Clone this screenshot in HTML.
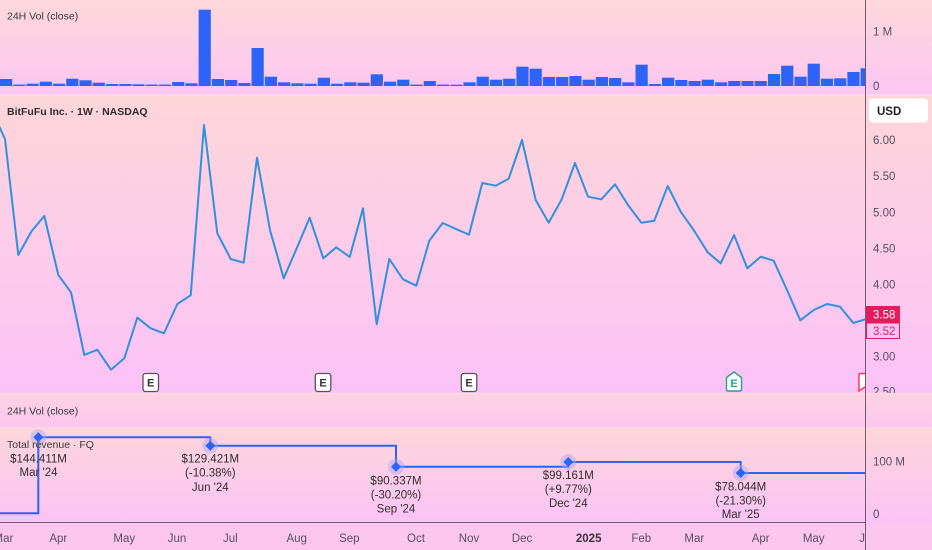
<!DOCTYPE html>
<html><head><meta charset="utf-8"><style>
html,body{margin:0;padding:0;background:#fcc6f0;}
svg{display:block;}
</style></head><body>
<svg width="932" height="550" viewBox="0 0 932 550" xmlns="http://www.w3.org/2000/svg" font-family="'Liberation Sans', Arial, sans-serif">
<defs>
<linearGradient id="g1" x1="0" y1="0" x2="0" y2="1"><stop offset="0" stop-color="#fdd8da"/><stop offset="1" stop-color="#fcc6f2"/></linearGradient>
<linearGradient id="g2" x1="0" y1="0" x2="0" y2="1"><stop offset="0" stop-color="#fdd6d9"/><stop offset="1" stop-color="#fcc2f8"/></linearGradient>
<linearGradient id="g3" x1="0" y1="0" x2="0" y2="1"><stop offset="0" stop-color="#fdd4de"/><stop offset="1" stop-color="#fcc5f2"/></linearGradient>
<linearGradient id="g4" x1="0" y1="0" x2="0" y2="1"><stop offset="0" stop-color="#fdd6d9"/><stop offset="1" stop-color="#fcc3f7"/></linearGradient>
<clipPath id="cp"><rect x="0" y="0" width="865" height="550"/></clipPath>
</defs>

<!-- pane backgrounds -->
<rect x="0" y="0" width="932" height="95" fill="url(#g1)"/>
<rect x="0" y="95" width="932" height="298" fill="url(#g2)"/>
<rect x="0" y="393" width="932" height="35" fill="url(#g3)"/>
<rect x="0" y="428" width="932" height="95" fill="url(#g4)"/>
<rect x="0" y="523" width="932" height="27" fill="#fcc6f0"/>
<line x1="0" y1="95" x2="932" y2="95" stroke="#fde2e6" stroke-width="1"/>
<line x1="0" y1="393.5" x2="932" y2="393.5" stroke="#fde0e6" stroke-width="1"/>
<line x1="0" y1="428" x2="932" y2="428" stroke="#fde0e6" stroke-width="1"/>

<!-- volume bars -->
<g fill="#2d63f7" clip-path="url(#cp)">
<rect x="0" y="79" width="12.2" height="7"/>
<rect x="13.24" y="84.6" width="12.2" height="1.4"/>
<rect x="26.48" y="83.7" width="12.2" height="2.3"/>
<rect x="39.72" y="81.7" width="12.2" height="4.3"/>
<rect x="52.96" y="83.7" width="12.2" height="2.3"/>
<rect x="66.2" y="78.7" width="12.2" height="7.3"/>
<rect x="79.44" y="80.3" width="12.2" height="5.7"/>
<rect x="92.68" y="82.7" width="12.2" height="3.3"/>
<rect x="105.92" y="84" width="12.2" height="2"/>
<rect x="119.16" y="84" width="12.2" height="2"/>
<rect x="132.4" y="84.3" width="12.2" height="1.7"/>
<rect x="145.64" y="84.6" width="12.2" height="1.4"/>
<rect x="158.88" y="84.6" width="12.2" height="1.4"/>
<rect x="172.12" y="82" width="12.2" height="4"/>
<rect x="185.36" y="83.3" width="12.2" height="2.7"/>
<rect x="198.6" y="9.7" width="12.2" height="76.3"/>
<rect x="211.84" y="79" width="12.2" height="7"/>
<rect x="225.08" y="80" width="12.2" height="6"/>
<rect x="238.32" y="83" width="12.2" height="3"/>
<rect x="251.56" y="48" width="12.2" height="38"/>
<rect x="264.8" y="76.7" width="12.2" height="9.3"/>
<rect x="278.04" y="82.3" width="12.2" height="3.7"/>
<rect x="291.28" y="83.3" width="12.2" height="2.7"/>
<rect x="304.52" y="83.7" width="12.2" height="2.3"/>
<rect x="317.76" y="77.7" width="12.2" height="8.3"/>
<rect x="331" y="83.7" width="12.2" height="2.3"/>
<rect x="344.24" y="82.3" width="12.2" height="3.7"/>
<rect x="357.48" y="82.7" width="12.2" height="3.3"/>
<rect x="370.72" y="74.3" width="12.2" height="11.7"/>
<rect x="383.96" y="81.7" width="12.2" height="4.3"/>
<rect x="397.2" y="79.7" width="12.2" height="6.3"/>
<rect x="410.44" y="84.6" width="12.2" height="1.4"/>
<rect x="423.68" y="81" width="12.2" height="5"/>
<rect x="436.92" y="84.6" width="12.2" height="1.4"/>
<rect x="450.16" y="84.7" width="12.2" height="1.3"/>
<rect x="463.4" y="82.3" width="12.2" height="3.7"/>
<rect x="476.64" y="76.7" width="12.2" height="9.3"/>
<rect x="489.88" y="79.7" width="12.2" height="6.3"/>
<rect x="503.12" y="78.7" width="12.2" height="7.3"/>
<rect x="516.36" y="66.7" width="12.2" height="19.3"/>
<rect x="529.6" y="68.7" width="12.2" height="17.3"/>
<rect x="542.84" y="77" width="12.2" height="9"/>
<rect x="556.08" y="77" width="12.2" height="9"/>
<rect x="569.32" y="76" width="12.2" height="10"/>
<rect x="582.56" y="79.7" width="12.2" height="6.3"/>
<rect x="595.8" y="77" width="12.2" height="9"/>
<rect x="609.04" y="78" width="12.2" height="8"/>
<rect x="622.28" y="82.3" width="12.2" height="3.7"/>
<rect x="635.52" y="64.7" width="12.2" height="21.3"/>
<rect x="648.76" y="84" width="12.2" height="2"/>
<rect x="662" y="77.7" width="12.2" height="8.3"/>
<rect x="675.24" y="80" width="12.2" height="6"/>
<rect x="688.48" y="81" width="12.2" height="5"/>
<rect x="701.72" y="79.7" width="12.2" height="6.3"/>
<rect x="714.96" y="82.3" width="12.2" height="3.7"/>
<rect x="728.2" y="81" width="12.2" height="5"/>
<rect x="741.44" y="81" width="12.2" height="5"/>
<rect x="754.68" y="81" width="12.2" height="5"/>
<rect x="767.92" y="74" width="12.2" height="12"/>
<rect x="781.16" y="65.7" width="12.2" height="20.3"/>
<rect x="794.4" y="76.7" width="12.2" height="9.3"/>
<rect x="807.64" y="63.7" width="12.2" height="22.3"/>
<rect x="820.88" y="78.7" width="12.2" height="7.3"/>
<rect x="834.12" y="78.3" width="12.2" height="7.7"/>
<rect x="847.36" y="72" width="12.2" height="14"/>
<rect x="860.6" y="68.3" width="12.2" height="17.7"/>
</g>

<!-- legends -->
<text x="7" y="19.5" font-size="10.5" fill="#3a3a3a">24H Vol (close)</text>
<text x="7" y="115" font-size="10.5" font-weight="bold" fill="#2e2e2e">BitFuFu Inc. · 1W · NASDAQ</text>
<text x="7" y="414.5" font-size="10.5" fill="#3a3a3a">24H Vol (close)</text>

<!-- price line -->
<g clip-path="url(#cp)">
<polyline fill="none" stroke="#3190e0" stroke-width="2" stroke-linejoin="round" points="-8.2,110.7 5,139 18.3,255 31.7,231 44.3,216 58.3,275 71,292.3 84.3,355 97.3,349.7 111,369.7 124.3,358.3 137.3,317.7 150.7,328.3 164,333.3 177.3,304 190.7,295.3 204,125 217.3,233.3 230.7,259 243.7,262.7 257,157.7 270,230 283.7,278.3 296.7,248.3 309.7,217.7 323.3,258.3 336.3,247.3 349.7,257 363,208.3 376.7,324.3 389.3,259 403,279.3 416.3,285.7 429.3,240.7 442.7,223 456,229 469,234.7 482.3,183 495.7,185.7 508.7,178.7 522,140 535.7,200 548.7,222.7 561.7,199.3 575,163 588,196.7 601.3,199.3 615,184.3 628,205 641.3,222.7 654.3,220.7 667.7,186 680.7,211.7 694.3,231 707.7,252.3 720.7,263.3 734,235 747.3,268.3 760.7,256.7 773.7,260.7 787,290 800.3,320.3 813.7,310 827,304 840,306.7 853.3,323 866.5,319"/>

<!-- earnings markers -->
<rect x="143" y="373.5" width="15.5" height="18" rx="2.5" fill="#fff" stroke="#555" stroke-width="1.3"/>
<text x="150.7" y="386.6" font-size="11" font-weight="bold" fill="#333" text-anchor="middle">E</text>
<rect x="315.3" y="373.5" width="15.5" height="18" rx="2.5" fill="#fff" stroke="#555" stroke-width="1.3"/>
<text x="323" y="386.6" font-size="11" font-weight="bold" fill="#333" text-anchor="middle">E</text>
<rect x="461.3" y="373.5" width="15.5" height="18" rx="2.5" fill="#fff" stroke="#555" stroke-width="1.3"/>
<text x="469" y="386.6" font-size="11" font-weight="bold" fill="#333" text-anchor="middle">E</text>
<path d="M726.5,377.5 L734,372 L741.5,377.5 L741.5,389.5 Q741.5,391 740,391 L728,391 Q726.5,391 726.5,389.5 Z" fill="#fff" stroke="#22a38b" stroke-width="1.4"/>
<text x="734" y="387" font-size="11" font-weight="bold" fill="#22a38b" text-anchor="middle">E</text>
<path d="M859,375 Q859,373.5 860.5,373.5 L872,373.5 L872,391 L865,387 L859,391 Z" fill="#fff" stroke="#f23645" stroke-width="1.4"/>
</g>

<!-- revenue step line -->
<g>
<path d="M0,513.3 H38.3 V437.3 H210.3 V445.7 H396 V466.7 H568.3 V462 H740.7 V473 H865" fill="none" stroke="#2d63f7" stroke-width="2"/>
<g fill="#a9a8f0" fill-opacity="0.45">
<circle cx="38.3" cy="437.3" r="8"/>
<circle cx="210.3" cy="445.7" r="8"/>
<circle cx="396" cy="466.7" r="8"/>
<circle cx="568.3" cy="462" r="8"/>
<circle cx="740.7" cy="473" r="8"/>
</g>
<g fill="#2d63f7">
<polygon points="38.3,432.3 43.3,437.3 38.3,442.3 33.3,437.3"/>
<polygon points="210.3,440.7 215.3,445.7 210.3,450.7 205.3,445.7"/>
<polygon points="396,461.7 401,466.7 396,471.7 391,466.7"/>
<polygon points="568.3,457 573.3,462 568.3,467 563.3,462"/>
<polygon points="740.7,468 745.7,473 740.7,478 735.7,473"/>
</g>
</g>
<text x="7" y="448" font-size="10.5" fill="#3a3a3a">Total revenue · FQ</text>

<g font-size="11.5" fill="#2f2f2f" text-anchor="middle">
<text x="38.5" y="462.3">$144.411M</text>
<text x="38.5" y="476">Mar '24</text>
<text x="210.3" y="462.5">$129.421M</text>
<text x="210.3" y="476.7">(-10.38%)</text>
<text x="210.3" y="490.9">Jun '24</text>
<text x="396" y="484.5">$90.337M</text>
<text x="396" y="498.5">(-30.20%)</text>
<text x="396" y="512.5">Sep '24</text>
<text x="568.3" y="479">$99.161M</text>
<text x="568.3" y="493">(+9.77%)</text>
<text x="568.3" y="507">Dec '24</text>
<text x="740.7" y="490.5">$78.044M</text>
<text x="740.7" y="504.5">(-21.30%)</text>
<text x="740.7" y="518">Mar '25</text>
</g>

<!-- x axis -->
<line x1="0" y1="522.5" x2="865" y2="522.5" stroke="#6b5e70" stroke-width="1"/>
<g font-size="11.5" fill="#5a5060" text-anchor="middle" clip-path="url(#cp)">
<text x="3.4" y="542">Mar</text>
<text x="58.3" y="542">Apr</text>
<text x="124.3" y="542">May</text>
<text x="177" y="542">Jun</text>
<text x="230.3" y="542">Jul</text>
<text x="296.7" y="542">Aug</text>
<text x="349.3" y="542">Sep</text>
<text x="416" y="542">Oct</text>
<text x="469" y="542">Nov</text>
<text x="522" y="542">Dec</text>
<text x="588.7" y="542" font-weight="bold" fill="#3c3440">2025</text>
<text x="641.3" y="542">Feb</text>
<text x="694.3" y="542">Mar</text>
<text x="760.7" y="542">Apr</text>
<text x="813.7" y="542">May</text>
<text x="868.5" y="542">Jun</text>
</g>

<!-- right axis -->
<line x1="865.5" y1="0" x2="865.5" y2="550" stroke="#6b5e70" stroke-width="1"/>
<g font-size="11.5" fill="#5a5060">
<text x="873" y="35.5">1 M</text>
<text x="873" y="90">0</text>
<text x="873" y="144">6.00</text>
<text x="873" y="180">5.50</text>
<text x="873" y="216.3">5.00</text>
<text x="873" y="252.3">4.50</text>
<text x="873" y="288.3">4.00</text>
<text x="873" y="360.7">3.00</text>
<text x="873" y="465.5">100 M</text>
<text x="873" y="518">0</text>
</g>
<svg x="866" y="380" width="66" height="13"><text x="7" y="15.5" font-size="11.5" fill="#5a5060">2.50</text></svg>

<rect x="869" y="98.5" width="59" height="24" rx="4" fill="#ffffff"/>
<text x="877" y="115" font-size="11.5" font-weight="bold" fill="#222">USD</text>

<rect x="866" y="306" width="34" height="16.7" fill="#e8195c"/>
<text x="873" y="318.5" font-size="11.5" fill="#ffffff">3.58</text>
<rect x="866.5" y="323" width="33" height="15.5" fill="#fcc3f2" stroke="#e8195c" stroke-width="1"/>
<text x="873" y="335" font-size="11.5" fill="#e8195c">3.52</text>
</svg>
</body></html>
